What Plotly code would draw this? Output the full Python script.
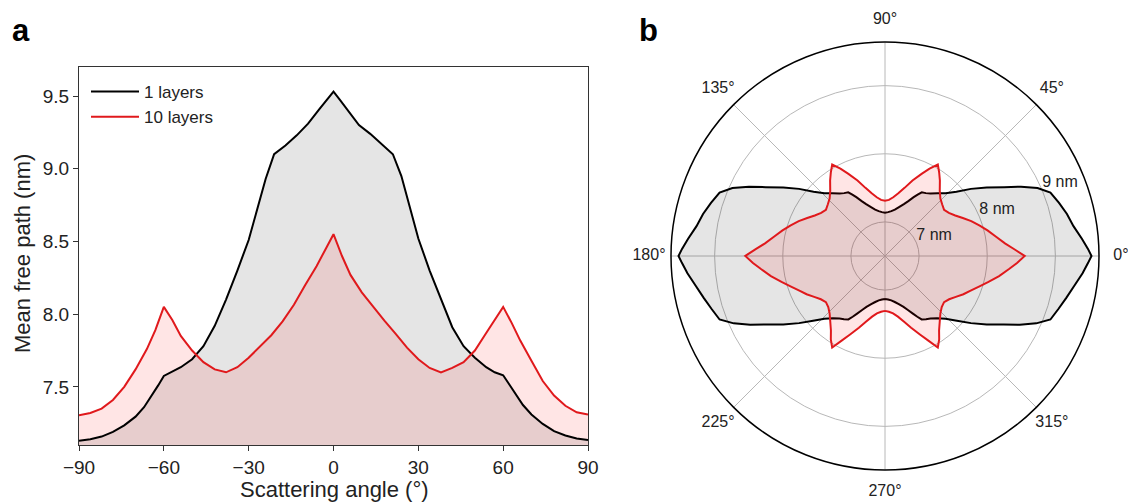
import plotly.graph_objects as go

# ---------------- data ----------------
angle_1 = [-90, -86, -82, -78, -74, -70, -67, -64, -62, -60, -57, -54, -50, -46, -42, -38, -34,
           -30, -27, -24, -21, -17, -13, -9, -5, -2, 0, 2, 5, 9, 13, 17, 21, 24, 27, 30, 34, 38,
           42, 46, 50, 54, 57, 60, 62, 64, 67, 70, 74, 78, 82, 86, 90]
mfp_1 = [7.13, 7.14, 7.158, 7.19, 7.235, 7.295, 7.36, 7.445, 7.51, 7.575, 7.605, 7.635, 7.69,
         7.78, 7.92, 8.10, 8.30, 8.51, 8.72, 8.93, 9.10, 9.16, 9.23, 9.31, 9.41, 9.48, 9.53, 9.48,
         9.40, 9.30, 9.24, 9.17, 9.10, 8.95, 8.74, 8.52, 8.30, 8.10, 7.91, 7.78, 7.70, 7.635,
         7.60, 7.58, 7.52, 7.46, 7.375, 7.31, 7.245, 7.195, 7.165, 7.145, 7.135]

angle_10 = [-90, -86, -82, -78, -74, -70, -66, -63, -60, -57, -54, -50, -46, -42, -38, -34, -30,
            -26, -22, -18, -14, -10, -6, -3, 0, 3, 6, 10, 14, 18, 22, 26, 30, 34, 38, 42, 46, 50,
            54, 57, 60, 63, 66, 70, 74, 78, 82, 86, 90]
mfp_10 = [7.305, 7.32, 7.35, 7.41, 7.50, 7.62, 7.76, 7.89, 8.05, 7.96, 7.85, 7.75, 7.67, 7.62,
          7.60, 7.635, 7.70, 7.78, 7.855, 7.95, 8.065, 8.20, 8.33, 8.44, 8.55, 8.40, 8.27, 8.15,
          8.05, 7.955, 7.865, 7.77, 7.69, 7.63, 7.60, 7.63, 7.67, 7.75, 7.87, 7.96, 8.05, 7.94,
          7.82, 7.68, 7.54, 7.44, 7.37, 7.325, 7.31]

series_names = ["1 layers", "10 layers"]
x_ticks = [-90, -60, -30, 0, 30, 60, 90]
y_ticks = [7.5, 8.0, 8.5, 9.0, 9.5]
polar_ticks = [0, 45, 90, 135, 180, 225, 270, 315]
radial_ticks = [7, 8, 9]
radial_labels = ["7 nm", "8 nm", "9 nm"]

# ---------------- style ----------------
FONT = "Liberation Sans, Arial, sans-serif"
BLACK = "#000000"
RED = "#e0191c"
GRAY_FILL = "rgba(0,0,0,0.10)"
RED_FILL = "rgba(255,0,0,0.10)"
TXT = "#222222"
W, H = 1128, 502
R_MIN, R_MAX = 6.5, 9.64
R_LABEL_PAD = 0.28       # radial offset of the "x nm" labels beyond their ring
CX, CY, RAD = 885, 256, 214   # polar frame centre / radius (px)
LBL_RAD = RAD + 22            # radius of the angle-label ring (px)


def polar_loop(ang, vals):
    # right half: theta = scattering angle; left half mirrored (180 - angle)
    th = list(ang) + [180 - a for a in reversed(ang)]
    rr = list(vals) + list(reversed(vals))
    return th, rr


fig = go.Figure()

# --- panel a: fills ---
fig.add_trace(go.Scatter(x=angle_1, y=mfp_1, mode="lines", line=dict(width=0, color=BLACK),
                         fill="tozeroy", fillcolor=GRAY_FILL, showlegend=False, hoverinfo="skip"))
fig.add_trace(go.Scatter(x=angle_10, y=mfp_10, mode="lines", line=dict(width=0, color=RED),
                         fill="tozeroy", fillcolor=RED_FILL, showlegend=False, hoverinfo="skip"))
# --- panel a: lines ---
fig.add_trace(go.Scatter(x=angle_1, y=mfp_1, mode="lines", name=series_names[0],
                         line=dict(color=BLACK, width=2)))
fig.add_trace(go.Scatter(x=angle_10, y=mfp_10, mode="lines", name=series_names[1],
                         line=dict(color=RED, width=2)))

# --- panel b: polar ---
th1, r1 = polar_loop(angle_1, mfp_1)
th10, r10 = polar_loop(angle_10, mfp_10)
fig.add_trace(go.Scatterpolar(theta=th1, r=r1, mode="lines", fill="toself", fillcolor=GRAY_FILL,
                              line=dict(color=BLACK, width=2), showlegend=False, subplot="polar"))
fig.add_trace(go.Scatterpolar(theta=th10, r=r10, mode="lines", fill="toself", fillcolor=RED_FILL,
                              line=dict(color=RED, width=2), showlegend=False, subplot="polar"))
# radial labels (like matplotlib, at 22.5 deg just outside each ring)
fig.add_trace(go.Scatterpolar(theta=[22.5] * len(radial_ticks),
                              r=[v + R_LABEL_PAD for v in radial_ticks],
                              mode="text", text=radial_labels,
                              textfont=dict(family=FONT, size=16, color=TXT),
                              showlegend=False, hoverinfo="skip", subplot="polar"))
# angular labels centred on a slightly larger, invisible polar frame
fig.add_trace(go.Scatterpolar(theta=polar_ticks, r=[1] * len(polar_ticks),
                              mode="text", text=[f"{v}\u00b0" for v in polar_ticks],
                              textfont=dict(family=FONT, size=16, color=TXT),
                              cliponaxis=False,
                              showlegend=False, hoverinfo="skip", subplot="polar2"))

axis_common = dict(showline=True, linecolor="#333333", linewidth=1.2, mirror=True,
                   ticks="outside", ticklen=5, tickwidth=1.2, tickcolor="#333333",
                   showgrid=False, zeroline=False,
                   tickfont=dict(family=FONT, size=19, color=TXT))

fig.update_layout(
    width=W, height=H,
    margin=dict(l=0, r=0, t=0, b=0),
    paper_bgcolor="white", plot_bgcolor="white",
    template="none",
    font=dict(family=FONT, color=TXT),
    xaxis=dict(domain=[79 / W, 588 / W], range=[-90, 90], tickvals=x_ticks,
               ticktext=[("\u2212" + str(-v)) if v < 0 else str(v) for v in x_ticks],
               **axis_common),
    yaxis=dict(domain=[57 / H, 435 / H], range=[7.1, 9.7], tickvals=y_ticks,
               ticktext=[f"{v:.1f}" for v in y_ticks], **axis_common),
    legend=dict(x=86 / W, y=1 - 74 / H, xanchor="left", yanchor="top",
                bgcolor="rgba(0,0,0,0)", font=dict(family=FONT, size=17, color=TXT),
                tracegroupgap=0, itemwidth=48),
    polar=dict(
        domain=dict(x=[(CX - RAD) / W, (CX + RAD) / W],
                    y=[(H - CY - RAD) / H, (H - CY + RAD) / H]),
        bgcolor="white",
        radialaxis=dict(range=[R_MIN, R_MAX], tickvals=radial_ticks, showticklabels=False,
                        showline=False, ticks="", gridcolor="#b8b8b8", gridwidth=1),
        angularaxis=dict(rotation=0, direction="counterclockwise", tickvals=polar_ticks,
                         showticklabels=False, ticks="",
                         showline=True, linecolor=BLACK, linewidth=1.5,
                         gridcolor="#b8b8b8", gridwidth=1),
    ),
    polar2=dict(
        domain=dict(x=[(CX - LBL_RAD) / W, (CX + LBL_RAD) / W],
                    y=[(H - CY - LBL_RAD) / H, (H - CY + LBL_RAD) / H]),
        bgcolor="rgba(0,0,0,0)",
        radialaxis=dict(range=[0, 1], visible=False, showgrid=False, showline=False,
                        showticklabels=False, ticks=""),
        angularaxis=dict(rotation=0, direction="counterclockwise", showgrid=False,
                         showline=False, showticklabels=False, ticks=""),
    ),
    annotations=[
        dict(text="<b>a</b>", x=10 / W, y=1 - 31 / H, xref="paper", yref="paper",
             xanchor="left", yanchor="middle", showarrow=False,
             font=dict(family=FONT, size=31, color="black")),
        dict(text="<b>b</b>", x=637 / W, y=1 - 31 / H, xref="paper", yref="paper",
             xanchor="left", yanchor="middle", showarrow=False,
             font=dict(family=FONT, size=31, color="black")),
        dict(text="Scattering angle (\u00b0)", x=334 / W, y=1 - 489 / H, xref="paper",
             yref="paper", xanchor="center", yanchor="middle", showarrow=False,
             font=dict(family=FONT, size=22, color=TXT)),
        dict(text="Mean free path (nm)", x=22 / W, y=1 - 254 / H, xref="paper",
             yref="paper", xanchor="center", yanchor="middle", showarrow=False, textangle=-90,
             font=dict(family=FONT, size=22, color=TXT)),
    ],
)

fig.write_html("out.html")
